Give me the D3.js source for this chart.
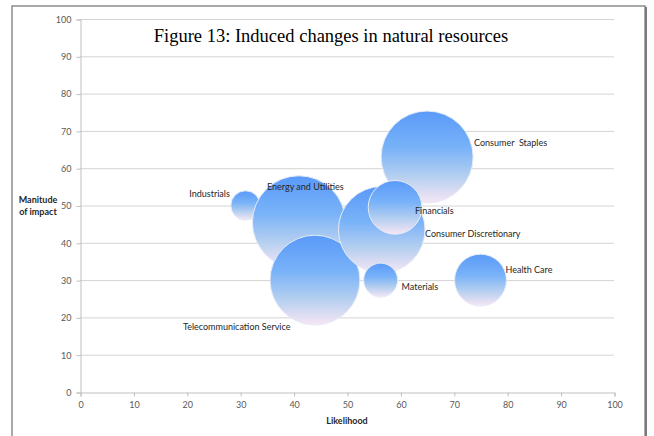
<!DOCTYPE html>
<html>
<head>
<meta charset="utf-8">
<script src="https://cdn.jsdelivr.net/npm/d3@7"></script>
<style>
  html, body { margin: 0; padding: 0; background: #ffffff; }
  svg { display: block; }
</style>
</head>
<body>
<script>
// ---- Data ----
const sectors = ["Industrials", "Energy and Utilities", "Telecommunication Service", "Consumer Discretionary",
                 "Consumer  Staples", "Financials", "Materials", "Health Care"];
const likelihood = [31, 41, 44, 56.5, 65, 59, 56.3, 75];
const impact = [50, 45.5, 30, 43.5, 63, 49.5, 30, 30];
const bubbleSize = [9, 90, 84, 78, 88, 30, 12, 28];
const labelSide = ["left", "above", "below", "right", "right", "right", "right", "right"];
const xTicks = [0, 10, 20, 30, 40, 50, 60, 70, 80, 90, 100];
const yTicks = [0, 10, 20, 30, 40, 50, 60, 70, 80, 90, 100];
const titleText = "Figure 13: Induced changes in natural resources";
const xTitle = "Likelihood";
const yTitleLines = ["Manitude", "of impact"];

const W = 654, H = 436;
const plot = { left: 80, right: 614, top: 19, bottom: 392 };

const svg = d3.select("body").append("svg").attr("width", W).attr("height", H);

const defs = svg.append("defs");
const grad = defs.append("linearGradient").attr("id", "bub").attr("x1", 0).attr("y1", 0).attr("x2", 0).attr("y2", 1);
[[0, "#5A9AF9"], [0.4, "#78B2F8"], [0.72, "#B7D0F0"], [1, "#F7E6F5"]].forEach(([o, c]) =>
  grad.append("stop").attr("offset", o).attr("stop-color", c));

// frame
svg.append("rect").attr("x", 12).attr("y", 6).attr("width", 633).attr("height", 440)
  .attr("fill", "#fff").attr("stroke", "#8c8c8c").attr("stroke-width", 1.5);
svg.append("line").attr("x1", 646).attr("x2", 646).attr("y1", 7).attr("y2", H)
  .attr("stroke", "#7a7a7a").attr("stroke-width", 2);

const x = d3.scaleLinear().domain([0, 100]).range([plot.left, plot.right]);
const y = d3.scaleLinear().domain([0, 100]).range([plot.bottom, plot.top]);
const r = d3.scaleSqrt().domain([0, 90]).range([0, 46.5]);

const font = "Lato, 'Open Sans', sans-serif";

// gridlines
svg.append("g").selectAll("line").data(yTicks.filter(d => d > 0)).join("line")
  .attr("x1", plot.left).attr("x2", plot.right)
  .attr("y1", d => y(d) + 0.5).attr("y2", d => y(d) + 0.5)
  .attr("stroke", "#d4d4d4").attr("stroke-width", 1);

// axes
const yAxis = d3.axisLeft(y).tickValues(yTicks).tickSize(4).tickPadding(5);
const gy = svg.append("g").attr("transform", `translate(${plot.left + 0.5},0.5)`).call(yAxis);
const xAxis = d3.axisBottom(x).tickValues(xTicks).tickSize(4).tickPadding(5);
const gx = svg.append("g").attr("transform", `translate(0.5,${plot.bottom + 0.5})`).call(xAxis);
[gx, gy].forEach(g => {
  g.select(".domain").attr("stroke", "#bfbfbf");
  g.selectAll(".tick line").attr("stroke", "#bfbfbf");
  g.selectAll(".tick text").attr("fill", "#595959").attr("font-family", font).attr("font-size", 9);
});

// bubbles
const data = sectors.map((s, i) => ({ name: s, x: likelihood[i], y: impact[i], size: bubbleSize[i], side: labelSide[i] }));
svg.append("g").selectAll("circle").data(data).join("circle")
  .attr("cx", d => x(d.x)).attr("cy", d => y(d.y)).attr("r", d => r(d.size))
  .attr("fill", "url(#bub)").attr("stroke", "#e6ecf6").attr("stroke-width", 1);

// labels
const lab = svg.append("g").attr("font-family", font).attr("font-size", 9).attr("fill", "#262626");
data.forEach(d => {
  const cx = x(d.x), cy = y(d.y), rr = r(d.size);
  let tx, ty, anchor = "start";
  if (d.side === "right") { tx = cx + rr + 2; ty = cy + 3; }
  else if (d.side === "left") { tx = cx - rr - 1; ty = cy - 9; anchor = "end"; }
  else if (d.side === "above") { tx = cx - 32; ty = cy - rr + 14; }
  else { tx = cx - 132; ty = cy + rr + 5; }
  if (d.name === "Consumer  Staples") { tx = cx + rr + 1; ty = cy - 11; }
  if (d.name === "Financials") { tx = cx + rr - 7; ty = cy + 7; }
  if (d.name === "Consumer Discretionary") { tx = cx + rr + 0; ty = cy + 7; }
  if (d.name === "Materials") { tx = cx + rr + 4; ty = cy + 10; }
  if (d.name === "Health Care") { tx = cx + rr - 1; ty = cy - 7; }
  lab.append("text").attr("x", tx).attr("y", ty).attr("text-anchor", anchor)
    .attr("xml:space", "preserve").style("white-space", "pre").text(d.name);
});

// title
svg.append("text").attr("x", 331).attr("y", 42).attr("text-anchor", "middle")
  .attr("font-family", "'Liberation Serif', 'Times New Roman', serif").attr("font-size", 18.5)
  .attr("fill", "#000").text(titleText);

// axis titles
svg.append("text").attr("x", 347).attr("y", 424).attr("text-anchor", "middle")
  .attr("font-family", font).attr("font-size", 9).attr("font-weight", "bold").attr("fill", "#262626").text(xTitle);
const yt = svg.append("text").attr("text-anchor", "middle")
  .attr("font-family", font).attr("font-size", 9).attr("font-weight", "bold").attr("fill", "#262626");
yTitleLines.forEach((t, i) => yt.append("tspan").attr("x", 38).attr("y", 203 + i * 12).text(t));
</script>
</body>
</html>
